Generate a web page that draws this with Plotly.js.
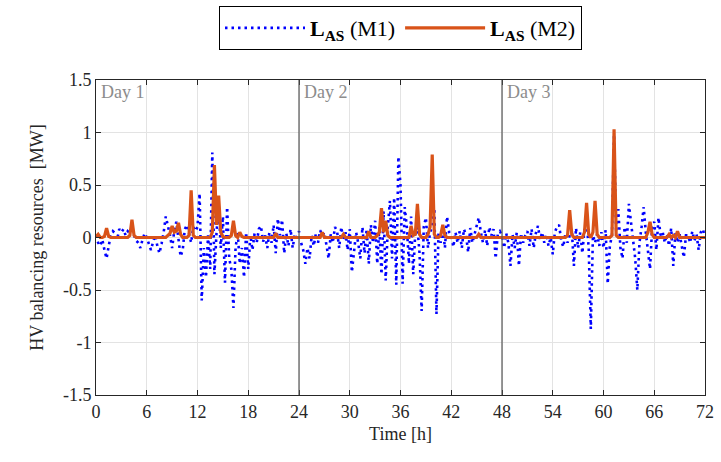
<!DOCTYPE html>
<html>
<head>
<meta charset="utf-8">
<script src="https://cdn.plot.ly/plotly-3.0.1.min.js"></script>
<style>html,body{margin:0;padding:0;background:#fff;}#chart{width:721px;height:462px;}</style>
</head>
<body>
<div id="chart"></div>
<script>
// Time resolution of the samples (hours)
var stepHours = 0.25;

// L_AS (M1): one row per hour, 4 samples per hour, t = 0 ... 72 h
var m1Values = [
  0.02, -0.05, -0.08, -0.02,
  -0.12, -0.2, -0.08, 0.02,
  0.06, 0.04, -0.02, 0.08,
  0.05, 0.08, 0.02, 0.06,
  0.04, 0.07, 0.02, -0.03,
  -0.05, -0.1, -0.02, 0.04,
  0.0, -0.06, -0.12, -0.04,
  0.02, -0.08, -0.15, -0.06,
  0.05, 0.2, 0.12, 0.02,
  -0.1, 0.06, 0.15, -0.05,
  -0.18, -0.12, 0.08, 0.12,
  0.02, -0.05, 0.1, 0.06,
  0.1, 0.42, -0.6, -0.1,
  -0.38, 0.02, -0.3, 0.81,
  -0.35, 0.05, 0.3, -0.1,
  0.2, -0.43, 0.29, -0.2,
  -0.3, -0.67, -0.1, 0.05,
  -0.25, -0.1, -0.38, 0.05,
  -0.3, 0.02, -0.12, 0.04,
  -0.05, 0.08, 0.11, -0.04,
  0.02, -0.1, 0.05, -0.05,
  0.12, -0.15, 0.18, 0.02,
  0.17, -0.15, 0.04, -0.08,
  0.08, -0.1, 0.03, 0.0,
  0.06, -0.05, -0.12, -0.25,
  -0.1, -0.2, 0.02, -0.08,
  0.04, -0.05, 0.07, 0.02,
  0.05, -0.08, -0.2, 0.03,
  -0.05, 0.1, 0.06, -0.1,
  0.1, -0.03, 0.05, -0.12,
  0.08, -0.33, -0.1, 0.05,
  -0.05, -0.2, 0.1, -0.15,
  0.08, -0.25, 0.12, -0.05,
  0.16, -0.25, 0.1, -0.35,
  0.25, -0.41, 0.1, 0.35,
  -0.2, 0.38, -0.45, 0.77,
  0.5, -0.44, 0.29, 0.1,
  -0.25, 0.2, -0.35, 0.05,
  0.1, -0.15, -0.7, 0.1,
  0.19, -0.1, 0.05, 0.1,
  0.28, -0.73, 0.05, -0.05,
  0.1, -0.1, 0.2, 0.05,
  0.02, -0.09, 0.05, -0.05,
  0.06, -0.1, 0.08, 0.02,
  -0.14, 0.09, -0.05, 0.04,
  0.1, 0.19, 0.05, -0.05,
  0.07, -0.08, 0.1, 0.02,
  0.08, -0.2, 0.03, 0.06,
  0.02, -0.1, 0.04, -0.05,
  -0.27, 0.03, -0.1, 0.05,
  -0.27, 0.04, -0.05, 0.02,
  0.06, -0.08, 0.08, -0.1,
  0.04, 0.11, -0.02, 0.05,
  -0.05, 0.03, -0.08, 0.0,
  -0.16, 0.05, 0.1, 0.12,
  -0.03, -0.09, 0.04, -0.05,
  0.02, 0.08, -0.27, 0.09,
  -0.1, 0.05, -0.15, 0.08,
  0.16, -0.1, -0.87, 0.02,
  -0.05, 0.03, -0.08, 0.05,
  -0.1, 0.07, -0.44, -0.08,
  0.02, 0.98, 0.05, 0.27,
  -0.1, -0.2, 0.1, -0.05,
  0.32, 0.15, 0.0, -0.2,
  -0.5, -0.05, 0.1, 0.29,
  0.05, -0.1, -0.3, 0.1,
  0.15, -0.12, 0.19, 0.02,
  0.05, -0.05, 0.03, -0.08,
  0.09, -0.27, 0.04, -0.05,
  0.03, -0.08, -0.19, 0.02,
  0.02, -0.05, 0.06, -0.03,
  0.03, -0.12, 0.05, 0.08,
  0.0
];

// L_AS (M2): one row per hour, 4 samples per hour, t = 0 ... 72 h
var m2Values = [
  0.01, 0.03, 0, 0,
  0.01, 0.09, 0.01, 0,
  0, 0, 0, 0,
  0, 0, 0, 0,
  0.02, 0.17, 0.02, 0,
  0, 0, 0, 0,
  0, 0, 0, 0,
  0, 0, 0, 0,
  0, 0, 0.02, 0.04,
  0.11, 0.05, 0.06, 0.14,
  0.03, 0, 0, 0,
  0.02, 0.45, 0.02, 0,
  0, 0, 0, 0,
  0, 0, 0, 0.05,
  0.69, 0.12, 0.40, 0.05,
  0.01, 0, 0, 0,
  0.02, 0.16, 0.02, 0,
  0.05, 0.01, 0, 0,
  0, 0, 0, 0,
  0, 0, 0, 0,
  0, 0, 0, 0,
  0, 0.04, 0, 0,
  0, 0, 0, 0,
  0, 0, 0, 0,
  0, 0, 0, 0,
  0, 0, 0, 0,
  0, 0, 0, 0.05,
  0, 0, 0, 0,
  0, 0, 0, 0,
  0, 0.03, 0, 0,
  0, 0, 0, 0,
  0, 0, 0, 0,
  0, 0.06, 0, 0,
  0, 0.02, 0.05, 0.28,
  0.05, 0.16, 0.02, 0,
  0, 0, 0, 0,
  0, 0, 0, 0,
  0, 0.11, 0.02, 0.03,
  0.32, 0.03, 0, 0,
  0, 0.03, 0.1, 0.79,
  0.03, 0, 0, 0.02,
  0.12, 0.02, 0, 0,
  0, 0, 0, 0,
  0, 0, 0, 0,
  0, 0, 0, 0,
  0, 0.03, 0, 0,
  0, 0, 0, 0,
  0, 0, 0, 0,
  0, 0, 0, 0,
  0, 0, 0, 0,
  0, 0, 0, 0,
  0, 0, 0, 0,
  0, 0, 0, 0,
  0, 0, 0, 0,
  0, 0, 0, 0,
  0, 0, 0, 0.02,
  0.26, 0.03, 0, 0,
  0, 0, 0, 0.05,
  0.33, 0.03, 0, 0.05,
  0.35, 0.03, 0, 0,
  0, 0, 0, 0,
  0.02, 1.03, 0.02, 0,
  0, 0, 0, 0,
  0, 0, 0, 0,
  0, 0, 0, 0,
  0, 0.05, 0.15, 0.03,
  0, 0, 0, 0,
  0, 0, 0, 0.03,
  0, 0.02, 0, 0.06,
  0, 0, 0, 0,
  0, 0, 0, 0,
  0, 0, 0, 0,
  0
];

var xTicks = [0, 6, 12, 18, 24, 30, 36, 42, 48, 54, 60, 66, 72];
var yTicks = [-1.5, -1, -0.5, 0, 0.5, 1, 1.5];
var yTickLabels = ['-1.5', '-1', '-0.5', '0', '0.5', '1', '1.5'];
var dayStarts = [0, 24, 48];
var dayLabels = ['Day 1', 'Day 2', 'Day 3'];
var dayBoundaries = [24, 48];
var seriesNames = ['<b>L</b><sub><b>AS</b></sub> (M1)', '<b>L</b><sub><b>AS</b></sub> (M2)'];

var timeHours = m1Values.map(function (v, i) { return i * stepHours; });

var serif = "'Liberation Serif', 'Times New Roman', serif";
var axisColor = '#262626';

var traces = [
  {
    x: timeHours, y: m1Values, type: 'scatter', mode: 'lines',
    name: seriesNames[0],
    line: {color: '#0000ff', width: 2.6, dash: '2.5px,4px'}
  },
  {
    x: timeHours, y: m2Values, type: 'scatter', mode: 'lines',
    name: seriesNames[1],
    line: {color: '#d95319', width: 3.2}
  }
];

var annotations = dayStarts.map(function (d, i) {
  return {
    x: d + 0.35, y: 1.5, xref: 'x', yref: 'y',
    xanchor: 'left', yanchor: 'top', showarrow: false,
    text: dayLabels[i],
    font: {family: serif, size: 18, color: '#8c8c8c'}
  };
});

var shapes = dayBoundaries.map(function (b) {
  return {
    type: 'line', xref: 'x', yref: 'paper', x0: b, x1: b, y0: 0, y1: 1,
    line: {color: '#555555', width: 1.2}, layer: 'above'
  };
});

var layout = {
  width: 721, height: 462,
  margin: {l: 96, r: 16, t: 80, b: 67, pad: 0, autoexpand: false},
  paper_bgcolor: '#ffffff', plot_bgcolor: '#ffffff',
  font: {family: serif, size: 17, color: axisColor},
  showlegend: true,
  legend: {
    orientation: 'h', x: 0.5, xanchor: 'center', y: 1.095, yanchor: 'bottom',
    bordercolor: '#000000', borderwidth: 1, bgcolor: '#ffffff',
    font: {family: serif, size: 22, color: '#000000'},
    itemwidth: 80, tracegroupgap: 0
  },
  xaxis: {
    range: [0, 72], tickvals: xTicks, ticktext: xTicks.map(String),
    showgrid: true, gridcolor: '#e3e3e3', gridwidth: 1,
    zeroline: false, showline: true, linecolor: axisColor, linewidth: 1,
    mirror: 'ticks', ticks: 'inside', ticklen: 5, tickcolor: axisColor,
    tickfont: {family: serif, size: 18, color: axisColor},
    title: {text: 'Time [h]', font: {family: serif, size: 18, color: axisColor}, standoff: 6}
  },
  yaxis: {
    range: [-1.5, 1.5], tickvals: yTicks, ticktext: yTickLabels,
    showgrid: true, gridcolor: '#e3e3e3', gridwidth: 1,
    zeroline: false, showline: true, linecolor: axisColor, linewidth: 1,
    mirror: 'ticks', ticks: 'inside', ticklen: 5, tickcolor: axisColor,
    tickfont: {family: serif, size: 18, color: axisColor},
    title: {text: 'HV balancing resources  [MW]', font: {family: serif, size: 18, color: axisColor}, standoff: 14}
  },
  annotations: annotations,
  shapes: shapes
};

Plotly.newPlot('chart', traces, layout, {displayModeBar: false, staticPlot: true});
</script>
</body>
</html>
